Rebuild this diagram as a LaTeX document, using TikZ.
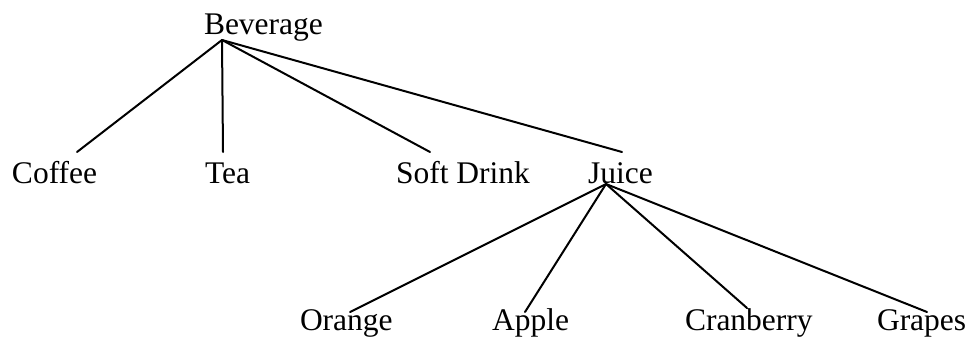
\documentclass[tikz,border=0pt]{standalone}
\usepackage{fontspec}
\setmainfont{Liberation Serif}
\begin{document}
\begin{tikzpicture}[x=1pt,y=-1pt,
  label/.style={anchor=base west,inner sep=0pt,outer sep=0pt,
    font=\fontsize{31.5}{36}\selectfont},
  branch/.style={line width=2pt,line cap=round}]
  \useasboundingbox (0,0) rectangle (968,337);

  % nodes of the tree
  \node[label] (bev)   at (204,35)  {Beverage};
  \node[label] (cof)   at (12,183)  {Coffee};
  \node[label] (tea)   at (205,183) {Tea};
  \node[label] (soft)  at (396,183) {Soft Drink};
  \node[label] (juice) at (588,183) {Juice};
  \node[label] (ora)   at (300,330) {Orange};
  \node[label] (app)   at (492,330) {Apple};
  \node[label] (cran)  at (685,330) {Cranberry};
  \node[label] (grap)  at (877,330) {Grapes};

  % branch points below parents and above children
  \coordinate (bev-r)   at (222,40);
  \coordinate (juice-r) at (606,184);
  \coordinate (cof-t)   at (77,152);
  \coordinate (tea-t)   at (223,152);
  \coordinate (soft-t)  at (430,152);
  \coordinate (juice-t) at (622,152);
  \coordinate (ora-t)   at (350,312);
  \coordinate (app-t)   at (525,312);
  \coordinate (cran-t)  at (747,308);
  \coordinate (grap-t)  at (927,312);

  \draw[branch] (bev-r) -- (cof-t);
  \draw[branch] (bev-r) -- (tea-t);
  \draw[branch] (bev-r) -- (soft-t);
  \draw[branch] (bev-r) -- (juice-t);
  \draw[branch] (juice-r) -- (ora-t);
  \draw[branch] (juice-r) -- (app-t);
  \draw[branch] (juice-r) -- (cran-t);
  \draw[branch] (juice-r) -- (grap-t);
\end{tikzpicture}
\end{document}
